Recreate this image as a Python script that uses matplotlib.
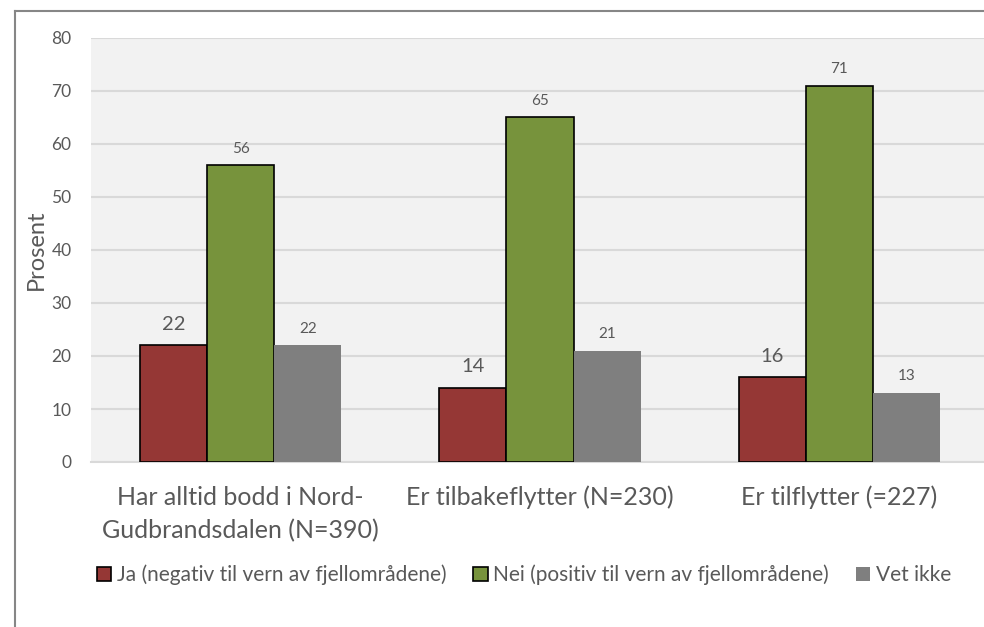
import matplotlib.pyplot as plt
from matplotlib.patches import Patch
from matplotlib.lines import Line2D
import numpy as np

plt.rcParams['font.family'] = ['Lato', 'DejaVu Sans']

## data
kategorier = ['Har alltid bodd i Nord-\nGudbrandsdalen (N=390)',
              'Er tilbakeflytter (N=230)',
              'Er tilflytter (=227)']
ja = [22, 14, 16]
nei = [56, 65, 71]
vet_ikke = [22, 21, 13]
serier = ['Ja (negativ til vern av fjellområdene)',
          'Nei (positiv til vern av fjellområdene)',
          'Vet ikke']

rod = '#953735'
gronn = '#77933C'
gra = '#7F7F7F'
tekst = '#595959'

fig = plt.figure(figsize=(9.84, 6.27), dpi=100)
ax = fig.add_axes([91/984, 1 - 462/627, (989 - 91)/984, (462 - 38)/627])
ax.set_facecolor('#F2F2F2')

x = np.arange(len(kategorier))
w = 0.224

b1 = ax.bar(x - w, ja, w, color=rod, edgecolor='black', linewidth=1.2, zorder=3)
b2 = ax.bar(x, nei, w, color=gronn, edgecolor='black', linewidth=1.2, zorder=3)
b3 = ax.bar(x + w, vet_ikke, w, color=gra, linewidth=0, zorder=3)

# data labels
for b, v in zip(b1, ja):
    ax.annotate(str(v), (b.get_x() + b.get_width()/2, v), xytext=(0, 15),
                textcoords='offset points', ha='center', va='center',
                fontsize=14.5, color=tekst)
for bars, vals in [(b2, nei), (b3, vet_ikke)]:
    for b, v in zip(bars, vals):
        ax.annotate(str(v), (b.get_x() + b.get_width()/2, v), xytext=(0, 12),
                    textcoords='offset points', ha='center', va='center',
                    fontsize=11, color=tekst)

ax.set_xlim(-0.5, 2.5)
ax.set_ylim(0, 80)
ax.set_yticks(range(0, 81, 10))
ax.set_xticks(x)
ax.set_xticklabels(kategorier, fontsize=18, color=tekst, linespacing=1.55)
ax.tick_params(axis='x', length=0, pad=17)
ax.tick_params(axis='y', length=0, pad=14, labelsize=12.5, labelcolor=tekst)
ax.yaxis.grid(True, color='#D9D9D9', linewidth=1.5, zorder=0)
ax.set_axisbelow(True)
for s in ['left', 'right', 'top']:
    ax.spines[s].set_visible(False)
ax.spines['bottom'].set_color('#D9D9D9')
ax.spines['bottom'].set_linewidth(1.5)

fig.text(36/984, 1 - 250/627, 'Prosent', rotation=90, ha='center', va='center',
         fontsize=17, color=tekst)

# legend
handles = [Patch(facecolor=rod, edgecolor='black', linewidth=1.2),
           Patch(facecolor=gronn, edgecolor='black', linewidth=1.2),
           Patch(facecolor=gra, linewidth=0)]
fig.legend(handles, serier, loc='center left', bbox_to_anchor=(78/984, 1 - 575/627),
           ncol=3, frameon=False, fontsize=15, labelcolor=tekst,
           handlelength=0.7, handleheight=0.7, handletextpad=0.25, columnspacing=1.3)

# outer frame
fig.add_artist(Line2D([15/984, 15/984], [0, 1 - 11/627], color='#868686', linewidth=1.5))
fig.add_artist(Line2D([15/984, 1], [1 - 11/627, 1 - 11/627], color='#868686', linewidth=1.5))

plt.savefig('out.png', dpi=100)
